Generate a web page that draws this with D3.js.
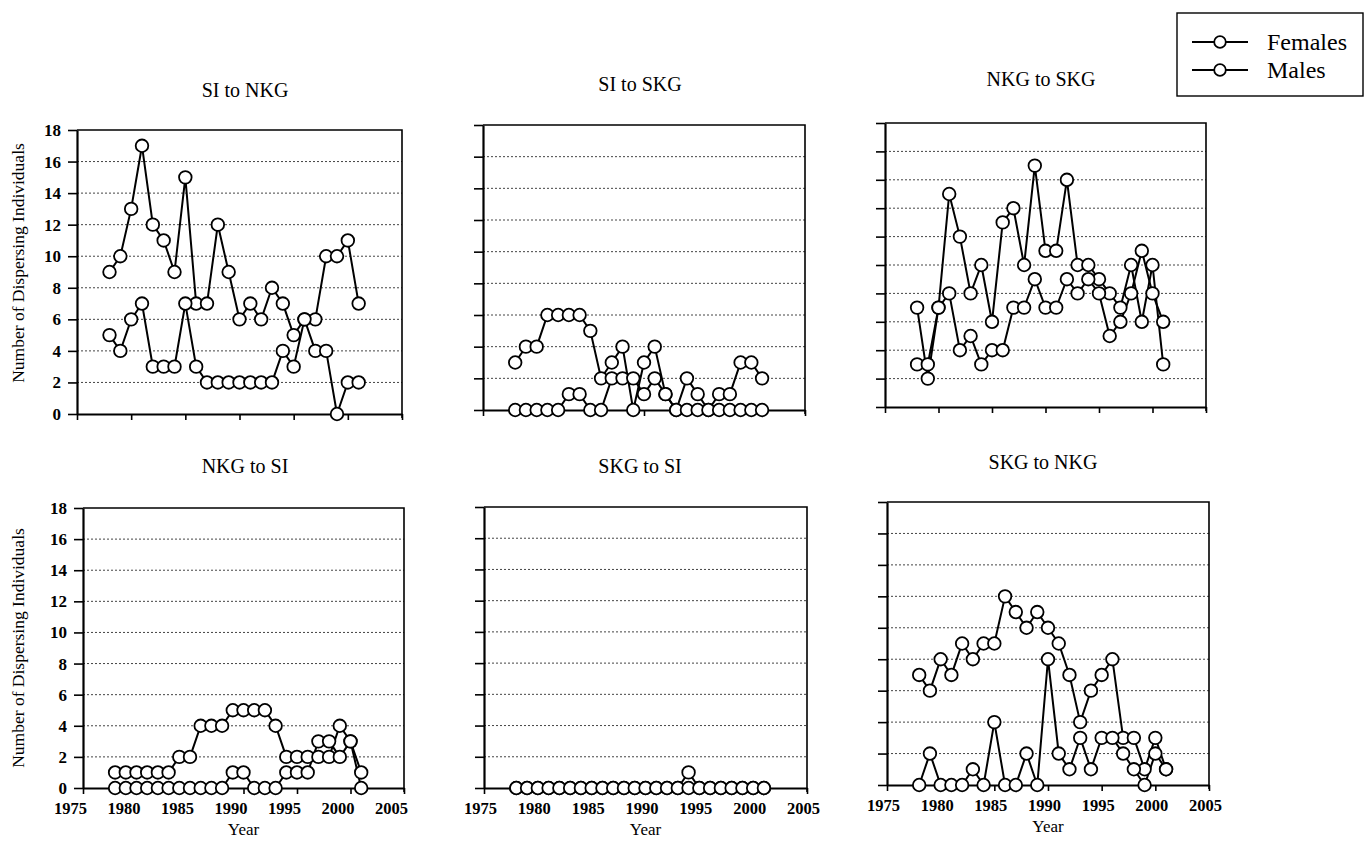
<!DOCTYPE html>
<html>
<head>
<meta charset="utf-8">
<script src="https://cdn.jsdelivr.net/npm/d3@7"></script>
<style>
  body { margin: 0; background: #fff; }
  svg { display: block; }
</style>
</head>
<body>
<svg id="chart"></svg>
<script>
// years of observation
const years = [1978, 1979, 1980, 1981, 1982, 1983, 1984, 1985, 1986, 1987, 1988, 1989,
               1990, 1991, 1992, 1993, 1994, 1995, 1996, 1997, 1998, 1999, 2000, 2001];
const yearTicks = [1975, 1980, 1985, 1990, 1995, 2000, 2005];
const countTicks18 = [0, 2, 4, 6, 8, 10, 12, 14, 16, 18];
const countTicks20 = [0, 2, 4, 6, 8, 10, 12, 14, 16, 18, 20];

// SI to NKG
const siNkgFemales = [9, 10, 13, 17, 12, 11, 9, 15, 7, 7, 12, 9, 6, 7, 6, 8, 7, 5, 6, 6, 10, 10, 11, 7];
const siNkgMales   = [5, 4, 6, 7, 3, 3, 3, 7, 3, 2, 2, 2, 2, 2, 2, 2, 4, 3, 6, 4, 4, 0, 2, 2];
// SI to SKG
const siSkgFemales = [3, 4, 4, 6, 6, 6, 6, 5, 2, 3, 4, 0, 3, 4, 1, 0, 2, 1, 0, 1, 1, 3, 3, 2];
const siSkgMales   = [0, 0, 0, 0, 0, 1, 1, 0, 0, 2, 2, 2, 1, 2, 1, 0, 0, 0, 0, 0, 0, 0, 0, 0];
// NKG to SKG
const nkgSkgFemales = [7, 2, 7, 15, 12, 8, 10, 6, 13, 14, 10, 17, 11, 11, 16, 10, 10, 9, 8, 7, 10, 6, 10, 3];
const nkgSkgMales   = [3, 3, 7, 8, 4, 5, 3, 4, 4, 7, 7, 9, 7, 7, 9, 8, 9, 8, 5, 6, 8, 11, 8, 6];
// NKG to SI
const nkgSiFemales = [1, 1, 1, 1, 1, 1, 2, 2, 4, 4, 4, 5, 5, 5, 5, 4, 2, 2, 2, 2, 2, 4, 3, 1];
const nkgSiMales   = [0, 0, 0, 0, 0, 0, 0, 0, 0, 0, 0, 1, 1, 0, 0, 0, 1, 1, 1, 3, 3, 2, 3, 0];
// SKG to SI
const skgSiFemales = [0, 0, 0, 0, 0, 0, 0, 0, 0, 0, 0, 0, 0, 0, 0, 0, 1, 0, 0, 0, 0, 0, 0, 0];
const skgSiMales   = [0, 0, 0, 0, 0, 0, 0, 0, 0, 0, 0, 0, 0, 0, 0, 0, 0, 0, 0, 0, 0, 0, 0, 0];
// SKG to NKG
const skgNkgFemales = [7, 6, 8, 7, 9, 8, 9, 9, 12, 11, 10, 11, 10, 9, 7, 4, 6, 7, 8, 3, 3, 1, 3, 1];
const skgNkgMales   = [0, 2, 0, 0, 0, 1, 0, 4, 0, 0, 2, 0, 8, 2, 1, 3, 1, 3, 3, 2, 1, 0, 2, 1];

const seriesNames = ['Females', 'Males'];

const W = 1369, H = 853;
const serif = '"Liberation Serif", "DejaVu Serif", serif';

const svg = d3.select('#chart')
  .attr('width', W)
  .attr('height', H)
  .style('font-family', serif);

// panel boxes (x0/x1 are where 1975 and 2005 fall)
const panels = [
  { title: 'SI to NKG',  f: siNkgFemales,  m: siNkgMales,  x0: 77,  x1: 402,  top: 130, bottom: 414, ymax: 18, yLabels: true,  xLabels: false, tx: 245,  ty: 97, labelY: 263 },
  { title: 'SI to SKG',  f: siSkgFemales,  m: siSkgMales,  x0: 483, x1: 805,  top: 125, bottom: 410, ymax: 18, yLabels: false, xLabels: false, tx: 640,  ty: 91 },
  { title: 'NKG to SKG', f: nkgSkgFemales, m: nkgSkgMales, x0: 885, x1: 1206, top: 123, bottom: 407, ymax: 20, yLabels: false, xLabels: false, tx: 1041, ty: 86 },
  { title: 'NKG to SI',  f: nkgSiFemales,  m: nkgSiMales,  x0: 83,  x1: 404,  top: 508, bottom: 788, ymax: 18, yLabels: true,  xLabels: true,  tx: 245,  ty: 473, labelY: 648, shift: -13 },
  { title: 'SKG to SI',  f: skgSiFemales,  m: skgSiMales,  x0: 484, x1: 807,  top: 507, bottom: 788, ymax: 18, yLabels: false, xLabels: true,  tx: 640,  ty: 473, shift: -4 },
  { title: 'SKG to NKG', f: skgNkgFemales, m: skgNkgMales, x0: 887, x1: 1209, top: 502, bottom: 785, ymax: 18, yLabels: false, xLabels: true,  tx: 1043, ty: 469, shift: -4 }
];

panels.forEach(p => {
  const x = d3.scaleLinear().domain([1975, 2005]).range([p.x0, p.x1]);
  const y = d3.scaleLinear().domain([0, p.ymax]).range([p.bottom, p.top]);
  const ticks = p.ymax === 20 ? countTicks20 : countTicks18;
  const g = svg.append('g');

  // dotted gridlines
  g.append('g')
    .selectAll('line')
    .data(ticks.filter(t => t > 0 && t < p.ymax))
    .join('line')
    .attr('x1', x(1975)).attr('x2', x(2005))
    .attr('y1', d => y(d)).attr('y2', d => y(d))
    .attr('stroke', '#444')
    .attr('stroke-width', 1)
    .attr('stroke-dasharray', '2,2');

  // frame top and right
  g.append('path')
    .attr('d', `M${x(1975)},${y(p.ymax)}H${x(2005)}V${y(0) + 4}`)
    .attr('fill', 'none')
    .attr('stroke', '#000')
    .attr('stroke-width', 1.6);

  // y axis
  const yAxis = d3.axisLeft(y)
    .tickValues(ticks)
    .tickSize(9)
    .tickSizeOuter(0)
    .tickPadding(7)
    .tickFormat(p.yLabels ? d3.format('d') : '');
  const ya = g.append('g')
    .attr('transform', `translate(${x(1975)},0)`)
    .call(yAxis);
  ya.select('.domain').attr('stroke-width', 2.2);
  ya.selectAll('.tick line').attr('stroke-width', 1.6);
  ya.selectAll('text')
    .style('font-family', serif)
    .style('font-size', '17px')
    .style('font-weight', 'bold')
    .attr('fill', '#000');

  // x axis
  const xAxis = d3.axisBottom(x)
    .tickValues(yearTicks)
    .tickSize(6)
    .tickSizeOuter(0)
    .tickPadding(8)
    .tickFormat(p.xLabels ? d3.format('d') : '');
  const xa = g.append('g')
    .attr('transform', `translate(0,${y(0)})`)
    .call(xAxis);
  xa.select('.domain').attr('stroke-width', 2.2);
  xa.selectAll('.tick line').attr('stroke-width', 1.6);
  xa.selectAll('text')
    .attr('dx', p.shift || 0)
    .style('font-family', serif)
    .style('font-size', '16.5px')
    .style('font-weight', 'bold')
    .attr('fill', '#000');

  // title
  svg.append('text')
    .attr('x', p.tx)
    .attr('y', p.ty)
    .attr('text-anchor', 'middle')
    .style('font-size', '20px')
    .text(p.title);

  if (p.xLabels) {
    svg.append('text')
      .attr('x', (p.x0 + p.x1) / 2)
      .attr('y', p.bottom + 47)
      .attr('text-anchor', 'middle')
      .style('font-size', '17px')
      .text('Year');
  }

  if (p.yLabels) {
    svg.append('text')
      .attr('transform', `translate(24,${p.labelY}) rotate(-90)`)
      .attr('text-anchor', 'middle')
      .style('font-size', '17.5px')
      .text('Number of Dispersing Individuals');
  }

  // series
  const line = d3.line().x((d, i) => x(years[i])).y(d => y(d));
  [p.f, p.m].forEach(vals => {
    g.append('path')
      .datum(vals)
      .attr('d', line)
      .attr('fill', 'none')
      .attr('stroke', '#000')
      .attr('stroke-width', 2);
  });
  [p.f, p.m].forEach(vals => {
    g.append('g')
      .selectAll('circle')
      .data(vals)
      .join('circle')
      .attr('cx', (d, i) => x(years[i]))
      .attr('cy', d => y(d))
      .attr('r', 6.3)
      .attr('fill', '#fff')
      .attr('stroke', '#000')
      .attr('stroke-width', 1.8);
  });
});

// legend
const legend = svg.append('g').attr('transform', 'translate(1177,13)');
legend.append('rect')
  .attr('width', 186)
  .attr('height', 83)
  .attr('fill', '#fff')
  .attr('stroke', '#000')
  .attr('stroke-width', 1.4);
seriesNames.forEach((name, i) => {
  const row = legend.append('g').attr('transform', `translate(0,${29 + i * 28})`);
  row.append('line')
    .attr('x1', 15).attr('x2', 71)
    .attr('stroke', '#000')
    .attr('stroke-width', 1.8);
  row.append('circle')
    .attr('cx', 43)
    .attr('r', 5.8)
    .attr('fill', '#fff')
    .attr('stroke', '#000')
    .attr('stroke-width', 1.8);
  row.append('text')
    .attr('x', 90)
    .attr('y', 8)
    .style('font-size', '24px')
    .text(name);
});
</script>
</body>
</html>
